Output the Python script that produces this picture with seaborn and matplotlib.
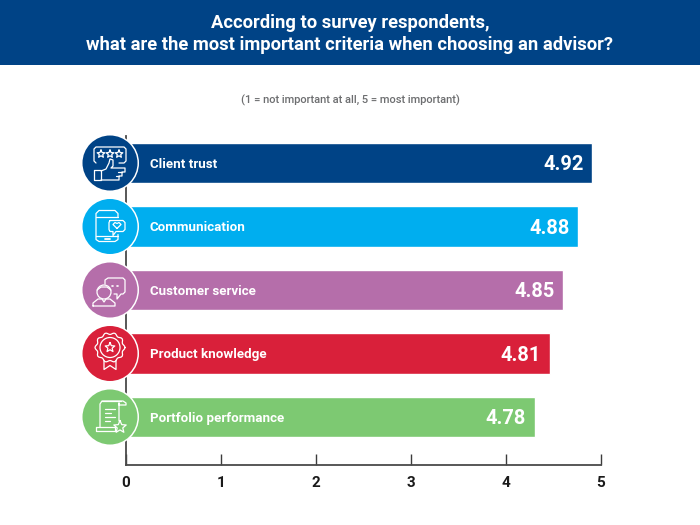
import numpy as np
import pandas as pd
import seaborn as sns
import matplotlib.pyplot as plt
from matplotlib.lines import Line2D
from matplotlib.patches import Rectangle, Circle
from matplotlib.transforms import Affine2D

sns.set_theme(style="ticks")
plt.rcParams['font.family'] = ['Roboto', 'DejaVu Sans']

criteria = ['Client trust', 'Communication', 'Customer service', 'Product knowledge', 'Portfolio performance']
# drawn bar lengths, the artwork does not follow the printed scores exactly
bar_lengths = [4.91, 4.76, 4.60, 4.46, 4.30]
score_labels = ['4.92', '4.88', '4.85', '4.81', '4.78']
bar_colors = ['#004386', '#00AEEF', '#B56EAA', '#D9203A', '#7DC972']
x_ticks = [0, 1, 2, 3, 4, 5]

W, H = 700, 525
df = pd.DataFrame({'criteria': criteria, 'length': bar_lengths})

fig = plt.figure(figsize=(7, 5.25), dpi=100, facecolor='white')
# pixel coords, origin top left
px = Affine2D().scale(1, -1).translate(0, H)

ax = fig.add_axes([126 / W, (H - 465) / H, 475 / W, (465 - 136) / H])
sns.barplot(data=df, x='length', y='criteria', hue='criteria', palette=bar_colors,
            width=0.64, saturation=1, legend=False, ax=ax)
ax.set_xlim(0, 5)
ax.set_ylim(4.756, -0.425)
ax.set_xlabel('')
ax.set_ylabel('')
ax.set_yticks([])
ax.set_xticks(x_ticks)
ax.tick_params(axis='x', direction='in', length=8, width=1, color='#3c3c3c', pad=8)
for lab in ax.get_xticklabels():
    lab.set_fontsize(11)
    lab.set_fontweight('bold')
    lab.set_color('#1a1a1a')
sns.despine(ax=ax)
for side in ['left', 'bottom']:
    ax.spines[side].set_color('#4a4a4a')
    ax.spines[side].set_linewidth(1.3)

# labels inside the bars
for i, (name, length, score) in enumerate(zip(criteria, bar_lengths, score_labels)):
    ax.text(0.25, i, name, color='white', fontsize=9.6, fontweight='bold', va='center_baseline', ha='left')
    ax.text(length - 0.09, i, score, color='white', fontsize=14.4, fontweight='bold', va='center_baseline', ha='right')

# header band
fig.add_artist(Rectangle((0, 0), W, 65, transform=px, facecolor='#004386', edgecolor='none', zorder=0))
fig.text(0.5, 1 - 23 / H, 'According to survey respondents,', color='white', fontsize=13.2, fontweight='bold',
         ha='center', va='center')
fig.text(0.5, 1 - 45 / H, 'what are the most important criteria when choosing an advisor?', color='white',
         fontsize=13.2, fontweight='bold', ha='center', va='center')
fig.text(0.5, 1 - 100 / H, '(1 = not important at all, 5 = most important)', color='#6d6e70', fontsize=8,
         fontweight='medium', ha='center', va='center')


# icon helpers, offsets in pixels from the circle centre
def line(cx, cy, pts, lw=0.9):
    xs = [cx + p[0] for p in pts]
    ys = [cy + p[1] for p in pts]
    fig.add_artist(Line2D(xs, ys, transform=px, color='white', lw=lw, zorder=6,
                          solid_capstyle='round', solid_joinstyle='round'))


def star(cx, cy, x, y, r):
    ang = np.deg2rad(np.arange(0, 361, 36) - 90)
    rad = np.array([r, r * 0.45] * 5 + [r])
    line(cx, cy, list(zip(x + rad * np.cos(ang), y + rad * np.sin(ang))))


def ring(cx, cy, x, y, r):
    fig.add_artist(Circle((cx + x, cy + y), r, transform=px, fill=False, edgecolor='white', lw=0.9, zorder=6))


def box(cx, cy, x0, y0, x1, y1):
    line(cx, cy, [(x0, y0), (x1, y0), (x1, y1), (x0, y1), (x0, y0)])


def icon_trust(cx, cy):
    line(cx, cy, [(-14, 0), (-16, -2), (-16, -14), (-14, -16), (14, -16), (16, -14), (16, -2), (14, 0), (9, 0)])
    for x in [-9, 0, 9]:
        star(cx, cy, x, -9, 4)
    box(cx, cy, -16, 7, -9, 17)
    line(cx, cy, [(-9, 8), (-4, 6), (-1, 0), (0, -4), (3, -3), (3, 3), (1, 5), (15, 5), (15, 9), (12, 9), (12, 13),
                  (9, 13), (9, 17), (-9, 17)])
    line(cx, cy, [(8, 9), (12, 9)])
    line(cx, cy, [(6, 13), (9, 13)])


def icon_phone(cx, cy):
    line(cx, cy, [(8, -9), (8, -13), (5, -16), (-11, -16), (-14, -13), (-14, 13), (-11, 15), (5, 15), (8, 13), (8, 8)])
    line(cx, cy, [(-14, -10), (8, -10)])
    line(cx, cy, [(-14, 9), (8, 9)])
    line(cx, cy, [(-5, 12), (0, 12)], lw=1.3)
    line(cx, cy, [(0, -6), (13, -6), (15, -4), (15, 3), (13, 5), (6, 5), (3, 9), (3, 5), (0, 5), (-1, 3), (-1, -4), (0, -6)])
    line(cx, cy, [(7, 2), (3, -2), (5, -4), (7, -3), (9, -4), (11, -2), (7, 2)])


def icon_service(cx, cy):
    line(cx, cy, [(-5, -6), (-5, -10), (-2, -12), (13, -12), (15, -10), (15, 2), (13, 4), (11, 4), (7, 9), (7, 4), (4, 4)])
    line(cx, cy, [(2, -4), (3, -4)], lw=1.2)
    line(cx, cy, [(7, -4), (8, -4)], lw=1.2)
    ring(cx, cy, -6, 2, 7)
    line(cx, cy, [(-13, 0), (-9, -3), (-3, -3), (1, 0)])
    line(cx, cy, [(-17, 16), (-17, 13), (-12, 9), (-8, 9), (-6, 12), (-4, 9), (0, 9), (5, 13), (5, 16), (-17, 16)])


def icon_ribbon(cx, cy):
    ang = np.deg2rad(np.arange(0, 361, 5))
    rad = 14 + 1.0 * np.cos(10 * ang)
    line(cx, cy, list(zip(rad * np.cos(ang), -6 + rad * np.sin(ang))))
    ring(cx, cy, 0, -6, 10)
    star(cx, cy, 0, -6, 5)
    line(cx, cy, [(-6, 7), (-6, 16), (0, 12), (6, 16), (6, 7)])


def icon_scroll(cx, cy):
    line(cx, cy, [(-10, 10), (-10, -13), (-8, -16), (13, -16), (16, -14), (16, -12), (9, -12), (9, -14), (9, 4)])
    line(cx, cy, [(-8, -16), (11, -16)])
    line(cx, cy, [(-14, 10), (5, 10), (5, 14), (-14, 14), (-14, 10)])
    for y, x1 in [(-8, 5), (-4, 1), (0, 5), (4, 0)]:
        line(cx, cy, [(-5, y), (x1, y)])
    star(cx, cy, 10, 10, 6.5)


icons = [icon_trust, icon_phone, icon_service, icon_ribbon, icon_scroll]

# round badges on the left end of each bar
for i, (color, icon) in enumerate(zip(bar_colors, icons)):
    cy = 163 + i * 63.5
    fig.add_artist(Circle((110, cy), 29, transform=px, facecolor='white', edgecolor='none', zorder=4))
    fig.add_artist(Circle((110, cy), 27.5, transform=px, facecolor=color, edgecolor='none', zorder=5))
    icon(110, cy)

plt.savefig('out.png', dpi=100)
